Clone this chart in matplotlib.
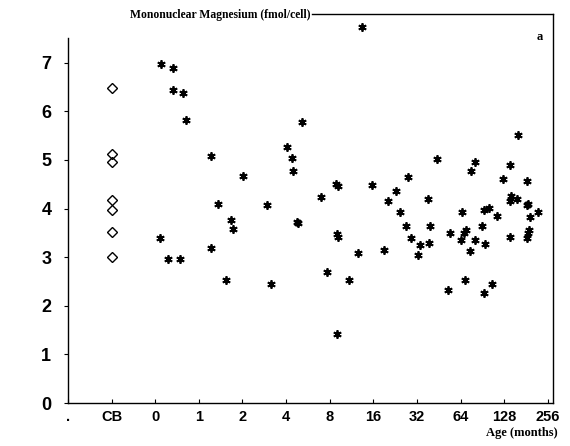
import matplotlib
matplotlib.use("Agg")
import matplotlib.pyplot as plt

# cord blood (CB) values
cb_mg = [6.48, 5.12, 4.95, 4.18, 3.97, 3.52, 3.00]

# age in months, mononuclear magnesium (fmol/cell)
age = [0.55, 0.66, 0.66, 0.78, 0.81, 0.54, 0.61, 0.74,
       1.22, 1.21, 1.36, 1.55, 1.67, 1.72, 2.01, 2.93, 3.16,
       4.06, 4.41, 4.44, 4.72, 4.8, 5.13, 6.96, 7.67, 8.94, 9.06, 8.9, 9.13, 9.0,
       10.8, 12.6, 13.3, 15.6, 18.9, 20.3, 23.1, 24.4, 26.7, 27.7, 29.0,
       32.4, 33.8, 38.1, 38.6, 39.1, 43.7, 52.4, 53.8,
       64.0, 65.3, 67.2, 69.1, 70.0, 74.5, 75.6, 79.9, 81.0, 90.5, 92.4, 93.1, 95.0,
       101, 106, 114, 125, 141, 141, 143, 141, 158, 159,
       184, 184, 187, 187, 190, 184, 193, 218]
mg = [6.97, 6.89, 6.44, 6.37, 5.82, 3.39, 2.97, 2.97,
      5.08, 3.18, 4.09, 2.53, 3.77, 3.58, 4.66, 4.07, 2.45,
      5.27, 5.03, 4.78, 3.73, 3.70, 5.77, 4.23, 2.69, 1.42, 4.47, 4.50, 3.41, 3.47,
      2.53, 3.08, 7.73, 4.49, 3.15, 4.16, 4.37, 3.92, 3.63, 4.64, 3.39,
      3.05, 3.25, 4.19, 3.29, 3.64, 5.02, 2.33, 3.50,
      3.35, 3.92, 3.49, 2.53, 3.56, 3.13, 4.78, 3.35, 4.95, 3.64, 3.97, 2.26, 3.27,
      4.02, 2.45, 3.84, 4.61, 4.90, 3.42, 4.25, 4.16, 4.20, 5.51,
      4.57, 4.07, 4.10, 3.49, 3.55, 3.39, 3.83, 3.92]

tick_pos = [0.125, 0.25, 0.5, 1, 2, 4, 8, 16, 32, 64, 128, 256]
tick_labels = [".", "CB", "0", "1", "2", "4", "8", "16", "32", "64", "128", "256"]

fig = plt.figure(figsize=(5.7, 4.46), dpi=100)
ax = fig.add_axes([68 / 570, 1 - 403 / 446, (553 - 68) / 570, (403 - 14) / 446])

ax.plot([0.25] * len(cb_mg), cb_mg, linestyle="none", marker="D", ms=5,
        mfc="none", mec="black", mew=1.0)
ax.plot(age, mg, linestyle="none", marker=(6, 2, 0), ms=6, mec="black", mew=1.3)

ax.set_xscale("log", base=2)
ax.set_xlim(0.128, 278)
ax.set_ylim(0, 8)
ax.set_xticks(tick_pos)
ax.set_xticklabels(tick_labels)
ax.minorticks_off()
ax.set_yticks(range(0, 8))

for lab in ax.get_xticklabels():
    lab.set_fontfamily("Liberation Sans")
    lab.set_fontweight("bold")
    lab.set_fontsize(10.5)
for lab in ax.get_yticklabels():
    lab.set_fontfamily("Liberation Sans")
    lab.set_fontweight("bold")
    lab.set_fontsize(13)

ax.tick_params(axis="x", direction="in", length=3, pad=5, width=0.8)
ax.tick_params(axis="y", direction="out", length=3, pad=9, width=0.8)

for s in ax.spines.values():
    s.set_linewidth(1.0)
ax.spines["left"].set_bounds(0, 7.5)
ax.spines["top"].set_bounds(6.0, 278)

fig.text(130 / 570, 1 - 15 / 446, "Mononuclear Magnesium (fmol/cell)",
         family="Liberation Serif", weight="bold", fontsize=8.4,
         ha="left", va="center")
fig.text(558 / 570, 1 - 433 / 446, "Age (months)", family="Liberation Serif",
         weight="bold", fontsize=9, ha="right", va="center")
ax.text(540 / 570, 1 - 37 / 446, "a", transform=fig.transFigure,
        family="Liberation Serif", weight="bold", fontsize=9,
        ha="center", va="center")

fig.savefig("out.png", dpi=100)
